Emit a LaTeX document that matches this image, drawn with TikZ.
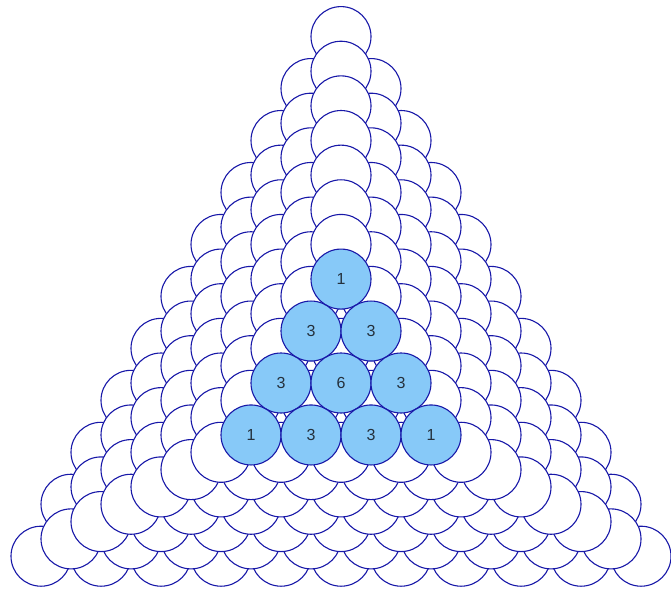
\documentclass[tikz,border=0pt]{standalone}
\usepackage{fontspec}
\setmainfont{Liberation Sans}
\usepackage{xcolor}
\definecolor{ballblue}{RGB}{135,201,248}
\definecolor{rimblue}{RGB}{24,24,168}
\definecolor{digitgray}{RGB}{36,48,60}

\begin{document}
\begin{tikzpicture}[x=1pt, y=-1pt,
  ball/.style={circle, draw=rimblue, fill=white, minimum size=60pt, inner sep=0pt, line width=1.1pt},
  topball/.style={ball, fill=ballblue, text=digitgray, font=\fontsize{16}{16}\selectfont}]
\useasboundingbox (0,0) rectangle (671,596);
% layers 10 down to 4, the bigger ones lie underneath
\foreach \k in {10,...,4}
  \foreach \r in {0,...,\k}
    \foreach \i in {0,...,\r}
      \node[ball] (b-\k-\r-\i) at ({341+(2*\i-\r)*30}, {383-34.641*\k+51.962*\r}) {};
% layer 3, left open on top
\foreach \r/\i/\n in {0/0/1, 1/0/3, 1/1/3, 2/0/3, 2/1/6, 2/2/3, 3/0/1, 3/1/3, 3/2/3, 3/3/1}
  \node[topball] (b-3-\r-\i) at ({341+(2*\i-\r)*30}, {383-103.923+51.962*\r}) {\n};
\end{tikzpicture}
\end{document}
